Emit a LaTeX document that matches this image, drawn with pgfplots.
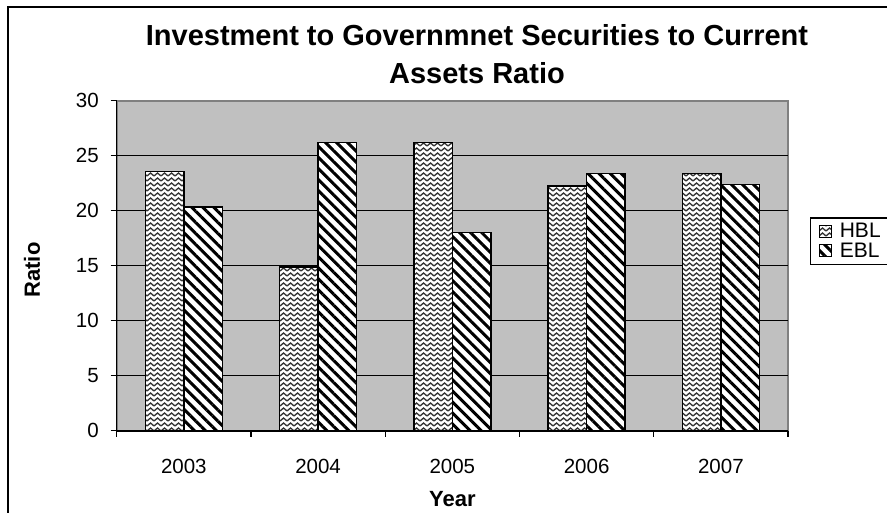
\documentclass[border=0pt]{standalone}
\usepackage{fontspec}
\setmainfont{Liberation Sans}
\usepackage{pgfplots}
\pgfplotsset{compat=1.18}
\usetikzlibrary{patterns,patterns.meta}
\definecolor{plotgray}{HTML}{C0C0C0}
\definecolor{bordgray}{HTML}{808080}
\pgfdeclarepatternformonly{weave}{\pgfpoint{-1pt}{-1pt}}{\pgfpoint{8pt}{6pt}}{\pgfpoint{7pt}{5pt}}{%
  \pgfsetlinewidth{1.3pt}%
  \pgfpathmoveto{\pgfpoint{0pt}{1pt}}%
  \pgfpathlineto{\pgfpoint{3.5pt}{4pt}}%
  \pgfpathlineto{\pgfpoint{7pt}{1pt}}%
  \pgfusepath{stroke}%
}
\begin{document}
\begin{tikzpicture}[x=1pt,y=1pt]
\useasboundingbox (0,0) rectangle (887,512);
\clip (0,0) rectangle (887,512);
\draw[line width=2pt] (8,505) rectangle (905,-10);
\node[font=\fontsize{29}{38}\selectfont\bfseries, align=center] at (477,458) {Investment to Governmnet Securities to Current\\Assets Ratio};
\begin{axis}[
  at={(116.7pt,81.3pt)}, anchor=south west,
  width=671.3pt, height=330pt, scale only axis,
  ybar=0pt, bar width=38.5pt,
  xmin=-0.5, xmax=4.5, ymin=0, ymax=30,
  axis background/.style={fill=plotgray, draw=bordgray, line width=2pt},
  axis x line*=bottom, axis y line*=left,
  axis line style={black, line width=1.6pt},
  ytick={0,5,...,30},
  extra y ticks={5,10,15,20,25}, extra y tick labels={},
  extra y tick style={grid=major, tick style={draw=none}},
  major grid style={black, line width=1.4pt},
  xtick={0,1,2,3,4}, xticklabels={2003,2004,2005,2006,2007},
  minor xtick={-0.5,0.5,1.5,2.5,3.5,4.5},
  tick align=outside, major tick length=6pt, minor tick length=6pt,
  major x tick style={draw=none},
  tick style={black, line width=1.2pt},
  /pgf/number format/assume math mode=true,
  tick label style={font=\fontsize{20.5}{24}\selectfont},
  yticklabel style={anchor=east, inner sep=0pt, xshift=-11.7pt},
  xticklabel style={anchor=center, inner sep=0pt, yshift=-29.3pt},
  xlabel={Year}, ylabel={Ratio},
  label style={font=\fontsize{22}{26}\selectfont\bfseries},
  xlabel style={at={(rel axis cs:0.5,-0.206)}, anchor=center},
  ylabel style={at={(rel axis cs:-0.1262,0.487)}, anchor=center},
  legend style={at={(rel axis cs:1.0323,0.6467)}, anchor=north west,
    draw=black, line width=1.3pt, fill=white,
    font=\fontsize{21}{23}\selectfont, inner xsep=9pt, inner ysep=4pt,
    row sep=0.5pt, nodes={inner sep=1.5pt},
    /tikz/every odd column/.style={column sep=6pt}},
  legend cell align=left,
  legend image code/.code={\draw[#1, line width=1pt] (0pt,-6pt) rectangle (12pt,6pt);},
]
\addplot[draw=black, line width=1.5pt, fill=white, postaction={pattern=weave, pattern color=black!80}]
  coordinates {(0,23.55) (1,14.9) (2,26.2) (3,22.25) (4,23.4)};
\addplot[draw=black, line width=1.5pt, fill=white, postaction={pattern={Lines[angle=-45,distance=7.8pt,line width=3pt]}, pattern color=black}]
  coordinates {(0,20.35) (1,26.2) (2,18.0) (3,23.4) (4,22.4)};
\legend{HBL,EBL}
\end{axis}
\end{tikzpicture}
\end{document}
